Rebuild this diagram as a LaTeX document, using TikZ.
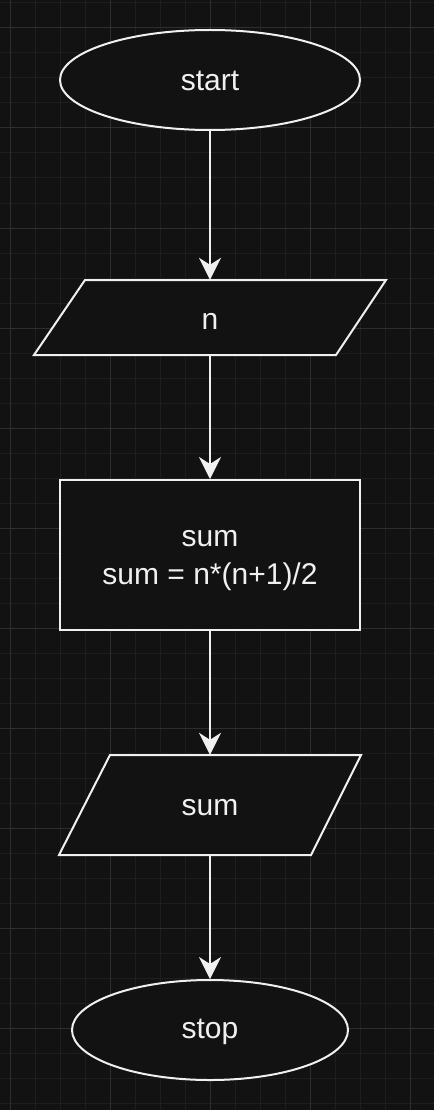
\documentclass[tikz,border=0pt]{standalone}
\usepackage{fontspec}
\setmainfont{Liberation Sans}
\usetikzlibrary{shapes.geometric,arrows.meta}
\definecolor{bg}{HTML}{121212}
\definecolor{gminor}{HTML}{1E1E1E}
\definecolor{gmajor}{HTML}{2E2E2E}
\definecolor{fg}{HTML}{F0F0F0}
\begin{document}
\begin{tikzpicture}[x=1pt,y=-1pt,
  shapeline/.style={draw=fg, line width=2pt, fill=bg},
  term/.style={shapeline, ellipse, minimum width=300pt, minimum height=100pt, inner sep=0pt},
  box/.style={shapeline, rectangle, minimum width=300pt, minimum height=150pt, align=center, inner sep=0pt},
  anchorbox/.style={rectangle, inner sep=0pt},
  txt/.style={text=fg, font=\fontsize{30}{38}\selectfont},
  flow/.style={draw=fg, line width=2pt, -{Stealth[length=22pt,width=22pt,inset=7pt]}},
  minorline/.style={draw=gminor, line width=1pt},
  majorline/.style={draw=gmajor, line width=1pt}
]
\fill[bg] (0,0) rectangle (434,1110);
\useasboundingbox (0,0) rectangle (434,1110);
\foreach \x in {10,35,...,435} \draw[minorline] (\x,0) -- (\x,1110);
\foreach \y in {3,28,...,1110} \draw[minorline] (0,\y) -- (434,\y);
\foreach \x in {10,110,...,410} \draw[majorline] (\x,0) -- (\x,1110);
\foreach \y in {28,128,...,1028} \draw[majorline] (0,\y) -- (434,\y);

\node[term] (start) at (210,80) {};
\node[txt] (starttxt) at (210,81) {start};

\draw[shapeline] (85,280) -- (386,280) -- (336,355) -- (34,355) -- cycle;
\node[anchorbox, minimum width=250pt, minimum height=75pt] (n) at (210,317.5) {};
\node[txt] (ntxt) at (210,321) {n};

\node[box] (calc) at (210,555) {};
\node[txt, align=center] (calctxt) at (210,561) {sum\\sum = n*(n+1)/2};

\draw[shapeline] (110,755) -- (361,755) -- (311,855) -- (59,855) -- cycle;
\node[anchorbox, minimum width=250pt, minimum height=100pt] (out) at (210,805) {};
\node[txt] (outtxt) at (210,808) {sum};

\node[term, minimum width=276pt] (stop) at (210,1030) {};
\node[txt] (stoptxt) at (210,1032) {stop};

\draw[flow] (start.south) -- (n.north);
\draw[flow] (n.south) -- (calc.north);
\draw[flow] (calc.south) -- (out.north);
\draw[flow] (out.south) -- (stop.north);
\end{tikzpicture}
\end{document}
